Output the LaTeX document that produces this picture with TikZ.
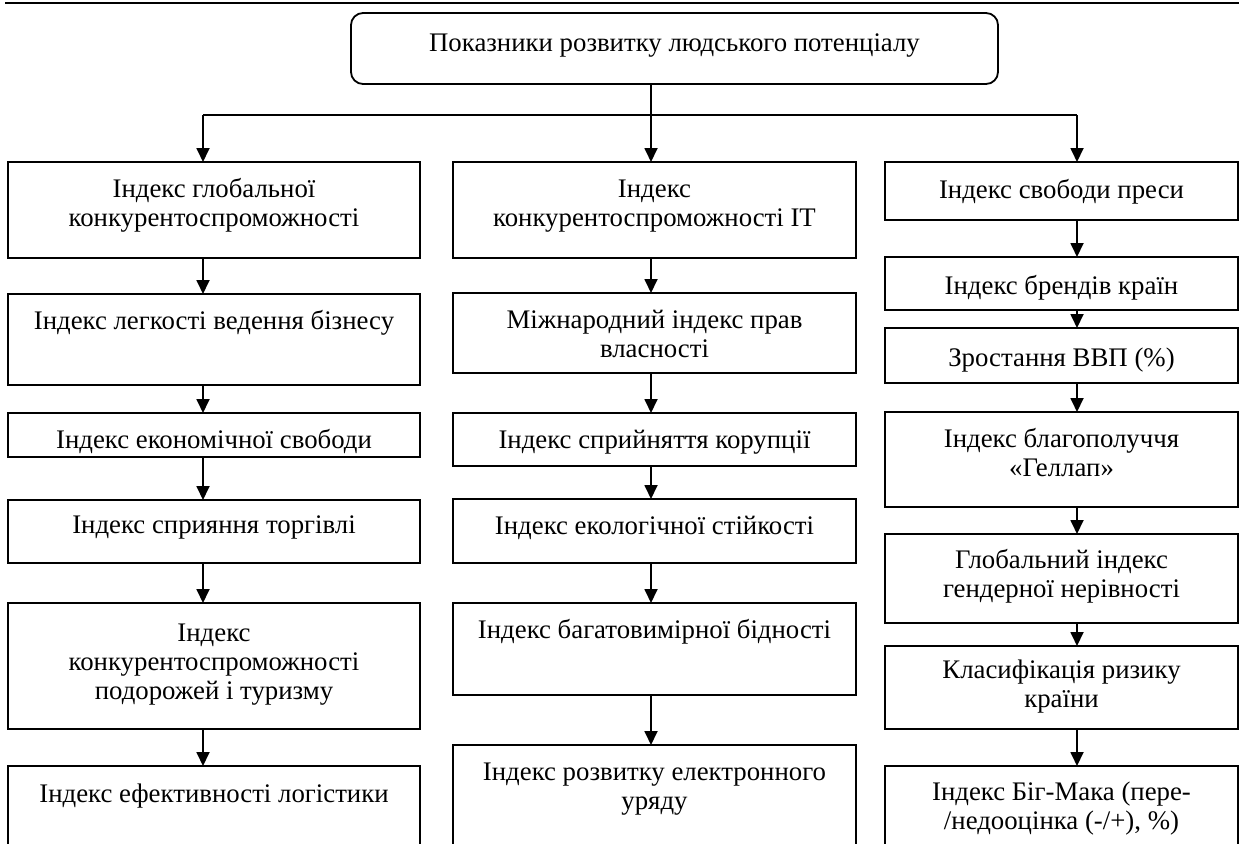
\documentclass[tikz,border=0pt]{standalone}
\usepackage{fontspec}
\setmainfont{Liberation Serif}
\usetikzlibrary{arrows.meta}
\tikzset{
  box/.style={draw, line width=1.8pt, inner sep=0pt, outer sep=0pt, font=\fontsize{26.8}{29}\selectfont},
  rootbox/.style={box, rounded corners=12pt},
  arr/.style={line width=1.8pt, -{Triangle[length=14pt,width=13pt]}},
  ln/.style={line width=1.8pt}
}
% name, x1, y1, x2, y2, baseline offset, text
\newcommand\ibox[7]{\node[box] (#1) at ({(#2+#4)/2},{(#3+#5)/2})
  {\parbox[c][\dimexpr#5pt-#3pt\relax][t]{\dimexpr#4pt-#2pt\relax}{\centering\rule{0pt}{#6pt}#7}};}
\begin{document}
\begin{tikzpicture}[x=1pt,y=-1pt]
\useasboundingbox (0,0) rectangle (1239,843);
\clip (0,0) rectangle (1239,843);
\fill[white] (0,0) rectangle (1239,843);
% top rule
\coordinate (ruleL) at (5,3);
\coordinate (ruleR) at (1239,3);
\draw[line width=2pt] (ruleL) -- (ruleR);
% root
\node[rootbox] (root) at ({(351+998)/2},{(13+84)/2})
  {\parbox[c][71pt][t]{647pt}{\centering\rule{0pt}{39pt}Показники розвитку людського потенціалу}};
% column x positions and bus
\coordinate (x1) at (203,0);
\coordinate (x2) at (651,0);
\coordinate (x3) at (1077,0);
\coordinate (bus) at (0,115);
% column 1
\ibox{c1a}{8}{162}{420}{258}{35}{Індекс глобальної\\конкурентоспроможності}
\ibox{c1b}{8}{294}{420}{385}{35}{Індекс легкості ведення бізнесу}
\ibox{c1c}{8}{413}{420}{457}{35}{Індекс економічної свободи}
\ibox{c1d}{8}{500}{420}{563}{33}{Індекс сприяння торгівлі}
\ibox{c1e}{8}{603}{420}{729}{38}{Індекс\\конкурентоспроможності\\подорожей і туризму}
\ibox{c1f}{8}{766}{420}{870}{36}{Індекс ефективності логістики}
% column 2
\ibox{c2a}{453}{162}{856}{258}{35}{Індекс\\конкурентоспроможності IT}
\ibox{c2b}{453}{293}{856}{373}{35}{Міжнародний індекс прав\\власності}
\ibox{c2c}{453}{413}{856}{466}{35}{Індекс сприйняття корупції}
\ibox{c2d}{453}{499}{856}{563}{35}{Індекс екологічної стійкості}
\ibox{c2e}{453}{603}{856}{695}{35}{Індекс багатовимірної бідності}
\ibox{c2f}{453}{745}{856}{870}{35}{Індекс розвитку електронного\\уряду}
% column 3
\ibox{c3a}{885}{162}{1238}{220}{36}{Індекс свободи преси}
\ibox{c3b}{885}{257}{1238}{310}{37}{Індекс брендів країн}
\ibox{c3c}{885}{328}{1238}{383}{38}{Зростання ВВП (\%)}
\ibox{c3d}{885}{412}{1238}{507}{35}{Індекс благополуччя\\«Геллап»}
\ibox{c3e}{885}{534}{1238}{623}{34}{Глобальний індекс\\гендерної нерівності}
\ibox{c3f}{885}{646}{1238}{729}{32}{Класифікація ризику\\країни}
\ibox{c3g}{885}{766}{1238}{870}{34}{Індекс Біг-Мака (пере-\\/недооцінка (-/+), \%)}
% connectors from root
\draw[ln] (root.south -| x2) -- (bus -| x2);
\draw[ln] (bus -| x1) -- (bus -| x3);
\draw[arr] (bus -| x1) -- (c1a.north -| x1);
\draw[arr] (bus -| x2) -- (c2a.north -| x2);
\draw[arr] (bus -| x3) -- (c3a.north -| x3);
% column 1 chain
\draw[arr] (c1a.south -| x1) -- (c1b.north -| x1);
\draw[arr] (c1b.south -| x1) -- (c1c.north -| x1);
\draw[arr] (c1c.south -| x1) -- (c1d.north -| x1);
\draw[arr] (c1d.south -| x1) -- (c1e.north -| x1);
\draw[arr] (c1e.south -| x1) -- (c1f.north -| x1);
% column 2 chain
\draw[arr] (c2a.south -| x2) -- (c2b.north -| x2);
\draw[arr] (c2b.south -| x2) -- (c2c.north -| x2);
\draw[arr] (c2c.south -| x2) -- (c2d.north -| x2);
\draw[arr] (c2d.south -| x2) -- (c2e.north -| x2);
\draw[arr] (c2e.south -| x2) -- (c2f.north -| x2);
% column 3 chain
\draw[arr] (c3a.south -| x3) -- (c3b.north -| x3);
\draw[arr] (c3b.south -| x3) -- (c3c.north -| x3);
\draw[arr] (c3c.south -| x3) -- (c3d.north -| x3);
\draw[arr] (c3d.south -| x3) -- (c3e.north -| x3);
\draw[arr] (c3e.south -| x3) -- (c3f.north -| x3);
\draw[arr] (c3f.south -| x3) -- (c3g.north -| x3);
\end{tikzpicture}
\end{document}
